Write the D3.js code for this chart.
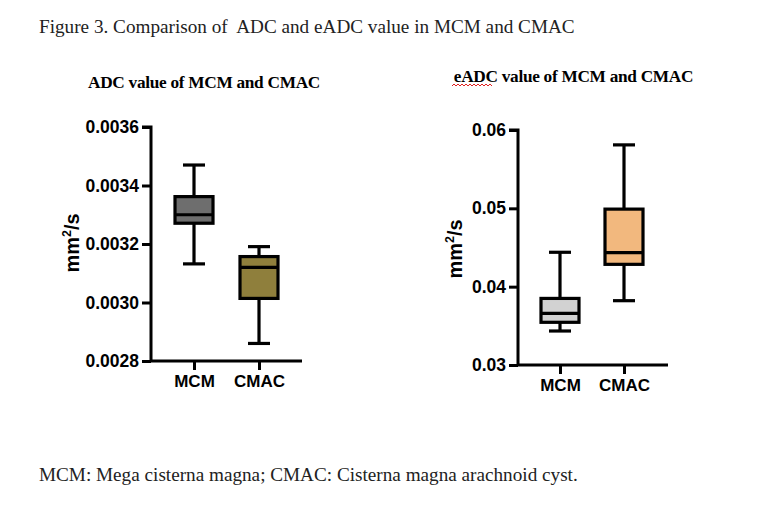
<!DOCTYPE html>
<html><head><meta charset="utf-8">
<script src="https://cdn.jsdelivr.net/npm/d3@7"></script>
<style>body{margin:0;background:#fff}svg{display:block}</style>
</head><body>
<svg id="c" width="764" height="529"></svg>
<script>
const categories = ["MCM", "CMAC"];
// [min, q1, median, q3, max]
const adcValues = [
  [0.003132, 0.003271, 0.003300, 0.003362, 0.003470],
  [0.002860, 0.003014, 0.003120, 0.003157, 0.003191]
];
const eadcValues = [
  [0.03434, 0.03545, 0.03660, 0.03850, 0.04439],
  [0.03821, 0.04285, 0.04434, 0.04990, 0.05810]
];
const adcTicks = [0.0028, 0.0030, 0.0032, 0.0034, 0.0036];
const eadcTicks = [0.03, 0.04, 0.05, 0.06];
const adcColors = ["#6e6e6e", "#8f7f3c"];
const eadcColors = ["#d2d2d2", "#f2b87e"];

const SERIF = "'Liberation Serif', 'Times New Roman', serif";
const SANS = "'Liberation Sans', Arial, sans-serif";
const svg = d3.select("#c");
svg.append("text").attr("x", 39).attr("y", 33)
  .style("font-family", SERIF).style("font-size", "19.2px").attr("fill", "#222")
  .text("Figure 3. Comparison of\u00a0 ADC and eADC value in MCM and CMAC");
svg.append("text").attr("x", 39).attr("y", 481)
  .style("font-family", SERIF).style("font-size", "19.2px").attr("fill", "#222")
  .text("MCM: Mega cisterna magna; CMAC: Cisterna magna arachnoid cyst.");

function panel(cfg) {
  const g = svg.append("g");
  const y = d3.scaleLinear().domain(cfg.domain).range([cfg.y0, cfg.y1]);
  const x = d3.scalePoint().domain(categories).range(cfg.xr);
  g.append("text").attr("x", cfg.tx).attr("y", cfg.ty).attr("text-anchor", "middle")
    .style("font-family", SERIF).style("font-weight", "bold")
    .style("font-size", "17.3px").attr("fill", "#000").style("letter-spacing", "-0.3px").text(cfg.title);
  const ya = d3.axisLeft(y).tickValues(cfg.ticks).tickFormat(cfg.fmt).tickSize(9).tickPadding(3);
  const yg = g.append("g").attr("transform", `translate(${cfg.ax},0)`).call(ya);
  const xa = d3.axisBottom(x).tickSize(9).tickPadding(3);
  const xg = g.append("g").attr("transform", `translate(0,${cfg.y0})`).call(xa);
  xg.select(".domain").attr("d", `M${cfg.ax},0H${cfg.axEnd}`);
  yg.select(".domain").attr("d", `M-9,${cfg.y1}H0V${cfg.y0}`);
  [yg, xg].forEach(a => {
    a.select(".domain").attr("stroke", "#000").attr("stroke-width", 3);
    a.selectAll(".tick line").attr("stroke", "#000").attr("stroke-width", 3);
    a.selectAll(".tick text").attr("fill", "#000").style("font-family", SANS)
      .style("font-weight", "bold");
  });
  yg.selectAll(".tick text").style("font-size", "17.5px");
  xg.selectAll(".tick text").style("font-size", "17px").attr("dy", "0.85em");
  const lab = g.append("text").attr("transform", `translate(${cfg.lx},${cfg.ly}) rotate(-90)`)
    .attr("text-anchor", "middle").style("font-family", SANS)
    .style("font-weight", "bold").style("font-size", "20px").attr("fill", "#000");
  lab.append("tspan").text("mm");
  lab.append("tspan").attr("dy", -8).style("font-size", "12.5px").text("2");
  lab.append("tspan").attr("dy", 8).text("/s");
  const bw = 38, cw = 22;
  cfg.data.forEach((d, i) => {
    const cx = x(categories[i]);
    const bg = g.append("g").attr("stroke", "#000").attr("stroke-width", 3.2);
    bg.append("line").attr("x1", cx).attr("x2", cx).attr("y1", y(d[0])).attr("y2", y(d[1]));
    bg.append("line").attr("x1", cx).attr("x2", cx).attr("y1", y(d[3])).attr("y2", y(d[4]));
    bg.append("line").attr("x1", cx - cw / 2).attr("x2", cx + cw / 2).attr("y1", y(d[0])).attr("y2", y(d[0]));
    bg.append("line").attr("x1", cx - cw / 2).attr("x2", cx + cw / 2).attr("y1", y(d[4])).attr("y2", y(d[4]));
    bg.append("rect").attr("x", cx - bw / 2).attr("width", bw).attr("y", y(d[3])).attr("height", y(d[1]) - y(d[3]))
      .attr("fill", cfg.colors[i]);
    bg.append("line").attr("x1", cx - bw / 2).attr("x2", cx + bw / 2).attr("y1", y(d[2])).attr("y2", y(d[2]));
  });
}

panel({domain: [0.0028, 0.0036], y0: 361, y1: 127, xr: [194, 259], ax: 151, axEnd: 302,
  ticks: adcTicks, fmt: d3.format(".4f"), data: adcValues, colors: adcColors,
  title: "ADC value of MCM and CMAC", tx: 204, ty: 88, lx: 79, ly: 243});
panel({domain: [0.03, 0.06], y0: 365, y1: 130, xr: [560, 624], ax: 518, axEnd: 668,
  ticks: eadcTicks, fmt: d3.format(".2f"), data: eadcValues, colors: eadcColors,
  title: "eADC value of MCM and CMAC", tx: 573.5, ty: 82, lx: 462, ly: 249});
let wp = "M452,86";
for (let xx = 452; xx < 490; xx += 4) wp += ` L${xx + 2},84 L${xx + 4},86`;
svg.append("path").attr("d", wp).attr("fill", "none").attr("stroke", "#e02020").attr("stroke-width", 1);
</script>
</body></html>
